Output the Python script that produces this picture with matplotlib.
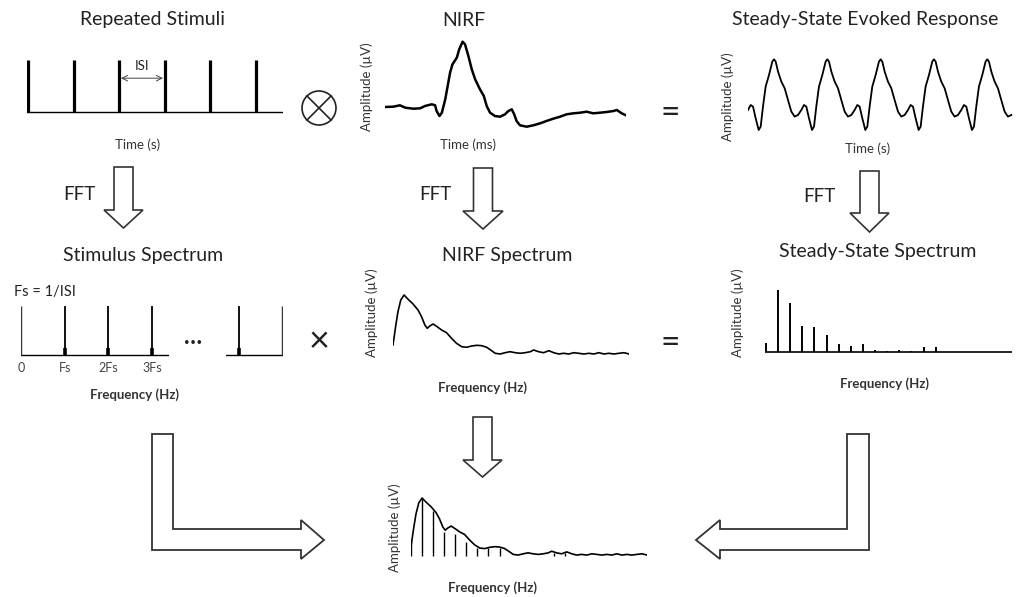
import numpy as np
import matplotlib
matplotlib.use("Agg")
import matplotlib.pyplot as plt
from matplotlib.patches import Polygon, Circle

plt.rcParams['font.family'] = ['Lato', 'DejaVu Sans']

# ---- data ----
# repeated stimuli (times in ISI units)
stim_times = [0, 1, 2, 3, 4, 5]

# NIRF waveform: time (ms), amplitude (uV)
nirf_t = [0, 17, 31, 42, 59, 73, 83, 97, 104, 107, 113, 118, 125, 135, 140, 149,
          154, 161, 166, 173, 180, 187, 197, 205, 211, 218, 228, 239, 249, 256,
          263, 268, 273, 280, 294, 308, 322, 335, 349, 363, 377, 391, 405, 418,
          432, 446, 460, 474, 481, 491, 500]
nirf_amp = [0.0, 0.03, 0.17, -0.07, -0.17, -0.13, 0.1, 0.27, 0.17, -0.4, -0.9,
            -0.57, 0.77, 3.43, 4.27, 4.93, 5.77, 6.53, 6.27, 5.1, 3.77, 2.77,
            1.77, 1.1, 0.1, -0.57, -0.9, -0.97, -0.73, -0.4, -0.23, -0.73, -1.4,
            -1.83, -1.97, -1.83, -1.63, -1.4, -1.17, -0.97, -0.73, -0.63, -0.57,
            -0.47, -0.63, -0.57, -0.5, -0.4, -0.3, -0.63, -0.83]

# one cycle of the steady-state response (ms, uV), period 100 ms
ssr_cycle_t = [0, 3.8, 8.1, 13.1, 19.4, 25.6, 28.8, 31.9, 36.3, 42.5, 48.8, 55,
               61.3, 67.5, 73.8, 80, 85, 89.4, 94.4]
ssr_cycle_amp = [-1.67, -1.33, 0.67, 2.67, 3.83, 5.17, 5.4, 5.17, 4.17, 3.17,
                 2.5, 1.33, 0.17, -0.33, -0.17, 0.33, 0.83, 0.67, -0.5]
ssr_period = 100
ssr_cycles = [-1, 0, 1, 2, 3, 4]

# stimulus spectrum: harmonics of Fs
stim_spec_f = [1, 2, 3]
stim_spec_labels = ['0', 'Fs', '2Fs', '3Fs']
stim_spec_last = 10

# NIRF spectrum: frequency (Hz), amplitude (uV)
nirf_f = [0, 1.1, 2.1, 3.3, 4.7, 6.4, 8.5, 10.6, 12.1, 13.5, 14.5, 15.6, 17.0,
          18.7, 20.6, 22.7, 24.8, 26.9, 29.1, 31.2, 33.3, 35.5, 37.6, 39.7,
          41.8, 43.3, 45.4, 47.5, 49.6, 51.8, 53.9, 56.0, 58.2, 59.6, 61.7,
          63.8, 66.0, 68.1, 70.2, 72.3, 74.5, 76.6, 78.7, 80.9, 83.0, 85.1,
          87.2, 89.4, 91.5, 93.6, 95.7, 97.9, 100]
nirf_spec = [1.0, 2.83, 4.33, 5.5, 6.0, 5.57, 5.1, 4.5, 3.83, 3.0, 2.67, 2.9,
             3.1, 2.83, 2.5, 2.23, 1.67, 1.17, 0.83, 0.77, 0.9, 0.97, 0.93,
             0.77, 0.43, 0.17, 0.1, 0.23, 0.33, 0.23, 0.17, 0.23, 0.33, 0.5,
             0.33, 0.23, 0.43, 0.23, 0.1, 0.17, 0.1, 0.23, 0.17, 0.1, 0.17, 0.1,
             0.23, 0.1, 0.17, 0.1, 0.17, 0.23, 0.1]

# steady-state spectrum: harmonic frequency (Hz), amplitude (uV)
ss_f = [0, 10, 20, 30, 40, 50, 60, 70, 80, 90, 100, 110, 120, 130, 140]
ss_amp = [0.9, 6.33, 4.9, 2.57, 2.5, 1.63, 0.73, 0.6, 0.77, 0.17, 0.07, 0.17,
          0.1, 0.43, 0.43]

# sampled NIRF spectrum (bottom panel)
samp_f = [0, 4.8, 9.5, 14.1, 18.8, 23.3, 28.1, 32.8, 37.5, 60.4, 65.3]
samp_amp = [1.6, 5.9, 4.7, 2.5, 2.3, 1.5, 0.8, 0.8, 0.8, 0.35, 0.35]

# ---- figure ----
W, H = 1016, 597
fig = plt.figure(figsize=(W / 100, H / 100), dpi=100)
ov = fig.add_axes([0, 0, 1, 1])
ov.set_xlim(0, W)
ov.set_ylim(H, 0)
ov.axis('off')


def panel(x0, y0, x1, y1):
  ax = fig.add_axes([x0 / W, 1 - y1 / H, (x1 - x0) / W, (y1 - y0) / H])
  ax.patch.set_alpha(0)
  for s in ax.spines.values():
    s.set_visible(False)
  ax.set_xticks([])
  ax.set_yticks([])
  return ax


def text(s, x, y, size, **kw):
  kw.setdefault('color', '#222222')
  ov.text(x, y, s, fontsize=size, ha=kw.pop('ha', 'center'), va='center', **kw)


def down_arrow(cx, top, shaft_w, head_y, head_w, tip):
  pts = [(cx - shaft_w / 2, top), (cx + shaft_w / 2, top), (cx + shaft_w / 2, head_y),
         (cx + head_w / 2, head_y), (cx, tip), (cx - head_w / 2, head_y),
         (cx - shaft_w / 2, head_y)]
  ov.add_patch(Polygon(pts, closed=True, fc='white', ec='#333333', lw=1.2))


# titles
for s, x, y in [("Repeated Stimuli", 152, 20), ("NIRF", 464, 20),
                ("Steady-State Evoked Response", 865, 20),
                ("Stimulus Spectrum", 143, 255), ("NIRF Spectrum", 507, 255),
                ("Steady-State Spectrum", 878, 251)]:
  text(s, x, y, 14)

for x, y in [(79, 195), (435, 195), (819, 197)]:
  text("FFT", x, y, 13.5)

for s, x, y in [("Time (s)", 138, 145), ("Time (ms)", 468, 145), ("Time (s)", 868, 149)]:
  text(s, x, y, 9.5, color='#333333')

for x, y in [(135, 395), (483, 388), (884, 384), (493, 588)]:
  text("Frequency (Hz)", x, y, 9.5, color='#333333', fontweight='bold')

for x, y in [(367, 87), (728, 97), (372, 313), (738, 313), (395, 528)]:
  text("Amplitude (\u00b5V)", x, y, 9.5, color='#333333', rotation=90)

text("Fs = 1/ISI", 14, 292, 10.5, ha='left')
text("=", 670, 113, 24)
text("=", 670, 343, 24)
text("\u00d7", 319, 342, 26)
text("\u2026", 193, 337, 17, fontweight='bold')

# convolution symbol
ov.add_patch(Circle((319, 108), 17, fc='none', ec='#222222', lw=1.2))
d = 12
ov.plot([319 - d, 319 + d], [108 - d, 108 + d], color='#222222', lw=1.2)
ov.plot([319 - d, 319 + d], [108 + d, 108 - d], color='#222222', lw=1.2)

# FFT arrows and the bottom arrow
down_arrow(123.5, 167, 19, 210, 39, 228)
down_arrow(483, 168, 19, 211, 40, 229)
down_arrow(869.5, 171, 19, 213, 39, 232)
down_arrow(482.5, 417, 19, 460, 39, 477)

# L-shaped arrows
left_L = [(152, 434), (173, 434), (173, 529), (301, 529), (301, 520), (324, 540),
          (301, 559), (301, 550), (152, 550)]
right_L = [(869, 434), (847, 434), (847, 529), (720, 529), (720, 520), (696, 540),
           (720, 559), (720, 550), (869, 550)]
for pts in (left_L, right_L):
  ov.add_patch(Polygon(pts, closed=True, fc='white', ec='#333333', lw=1.3))

# repeated stimuli
ax = panel(27, 55, 283, 115)
ax.set_xlim(-0.02, 5.59)
ax.set_ylim(-0.058, 1.096)
ax.vlines(stim_times, 0, 1, color='black', lw=2.3)
ax.axhline(0, color='black', lw=1.0)
ax.annotate('', xy=(2.04, 0.65), xytext=(2.96, 0.65),
            arrowprops=dict(arrowstyle='<->', lw=0.7, color='#444444',
                            shrinkA=0, shrinkB=0))
ax.text(2.5, 0.88, 'ISI', ha='center', va='center', fontsize=9.5, color='#222222')

# NIRF
ax = panel(385, 35, 626, 135)
ax.set_xlim(0, 500)
ax.set_ylim(-2.8, 7.2)
ax.plot(nirf_t, nirf_amp, color='black', lw=1.8)

# steady-state evoked response
ssr_t = np.concatenate([np.array(ssr_cycle_t) + ssr_period * k for k in ssr_cycles])
ssr_amp = np.tile(ssr_cycle_amp, len(ssr_cycles))
keep = (ssr_t >= -20) & (ssr_t <= 477)
ax = panel(748, 50, 1013, 135)
ax.set_xlim(-20, 477)
ax.set_ylim(-2.17, 6.33)
ax.plot(ssr_t[keep], ssr_amp[keep], color='black', lw=1.3)

# stimulus spectrum, first part
ax = panel(21, 300, 169, 358)
ax.set_xlim(-0.01, 3.39)
ax.set_ylim(-0.06, 1.12)
ax.axhline(0, color='black', lw=1.0)
ax.vlines(0, 0, 1, color='#333333', lw=1.0)
ax.vlines(stim_spec_f, 0, 1, color='black', lw=1.3)
ax.vlines(stim_spec_f, 0, 0.14, color='black', lw=2.6)
ax.set_xticks([0] + stim_spec_f, stim_spec_labels)
ax.tick_params(length=0, pad=3, labelsize=9, labelcolor='#444444')

# stimulus spectrum, last harmonic
ax = panel(226, 300, 283, 358)
ax.set_xlim(stim_spec_last - 0.3, stim_spec_last + 1.0)
ax.set_ylim(-0.06, 1.12)
ax.axhline(0, color='black', lw=1.0)
ax.vlines(stim_spec_last + 0.97, 0, 1, color='#333333', lw=1.0)
ax.vlines(stim_spec_last, 0, 1, color='black', lw=1.3)
ax.vlines(stim_spec_last, 0, 0.14, color='black', lw=2.6)

# NIRF spectrum
ax = panel(393, 290, 629, 365)
ax.set_xlim(0, 100)
ax.set_ylim(-1.0, 6.5)
ax.plot(nirf_f, nirf_spec, color='black', lw=1.2)

# steady-state spectrum
ax = panel(765, 290, 1012, 358)
ax.set_xlim(-0.8, 203)
ax.set_ylim(-0.63, 6.17)
ax.axhline(0, color='black', lw=1.2)
ax.vlines(ss_f, 0, ss_amp, color='black', lw=1.4)

# sampled NIRF spectrum
ax = panel(411, 490, 647, 566)
ax.set_xlim(0, 100)
ax.set_ylim(-1.03, 6.83)
ax.plot(nirf_f, nirf_spec, color='black', lw=1.2)
ax.vlines(samp_f, 0, samp_amp, color='black', lw=1.0)

fig.savefig('out.png', dpi=100)
